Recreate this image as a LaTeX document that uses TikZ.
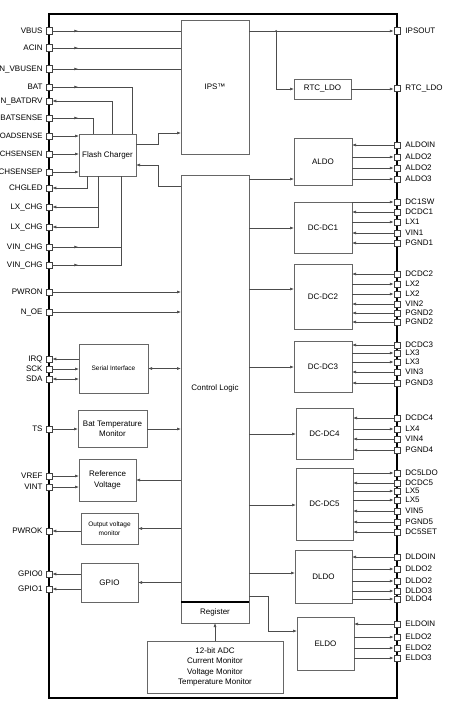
\documentclass[tikz,border=0pt]{standalone}
\usepackage{fontspec}
\setmainfont{Liberation Sans}
\usetikzlibrary{arrows.meta,decorations.markings,calc}
\begin{document}
\begin{tikzpicture}[x=1pt,y=-1pt,>={Latex[length=4pt,width=3pt]},
  conn/.style={draw=black!70,line width=0.6pt},
  blk/.style={draw=black!60,line width=0.7pt,inner sep=0pt,outer sep=0pt,align=center,font=\fontsize{8}{10.4}\selectfont},
  smallblk/.style={blk,font=\fontsize{6.5}{8.6}\selectfont},
  pinsq/.style={draw=black!75,fill=white,line width=0.5pt,minimum size=6.5pt,inner sep=0pt,outer sep=0pt},
  lpl/.style={anchor=east,inner sep=0pt,xshift=-3pt,text height=5.8pt,text depth=0pt,font=\fontsize{8}{9}\selectfont},
  rpl/.style={anchor=west,inner sep=0pt,xshift=5pt,text height=5.8pt,text depth=0pt,font=\fontsize{8}{9}\selectfont},
  midarr/.style={postaction={decorate},decoration={markings,mark=at position 26pt with {\arrow{>}}}}
]
\useasboundingbox (0,0) rectangle (468,717);
\fill[white] (0,0) rectangle (468,717);
\draw[line width=1.5pt] (49,14) rectangle (397,698);

% blocks
\node[blk,minimum width=68pt,minimum height=134pt] (ips) at (215,87) {IPS™};
\node[blk,minimum width=68pt,minimum height=427pt] (cl) at (215,388.5) {Control Logic};
\node[blk,minimum width=68pt,minimum height=21pt] (reg) at (215,612.5) {Register};
\draw[line width=1.3pt] (cl.south west) -- (cl.south east);
\node[blk,minimum width=57pt,minimum height=42pt] (fc) at (107.5,155) {Flash Charger};
\node[smallblk,minimum width=69pt,minimum height=49pt] (si) at (113.5,368.5) {Serial Interface};
\node[blk,minimum width=69pt,minimum height=37pt] (btm) at (112.5,428.5) {Bat Temperature\\Monitor};
\node[blk,minimum width=57pt,minimum height=42pt] (rv) at (107.5,480) {Reference\\Voltage};
\node[smallblk,minimum width=57pt,minimum height=31pt] (ovm) at (109.5,528.5) {Output voltage\\monitor};
\node[blk,minimum width=57pt,minimum height=39pt] (gpio) at (109.5,582.5) {GPIO};
\node[blk,minimum width=136pt,minimum height=52pt] (adc) at (215,667) {12-bit ADC\\Current Monitor\\Voltage Monitor\\Temperature Monitor};
\node[blk,minimum width=57pt,minimum height=20pt] (rtc) at (322.5,89) {RTC\_LDO};
\node[blk,minimum width=58pt,minimum height=47pt] (aldo) at (323,161.5) {ALDO};
\node[blk,minimum width=58pt,minimum height=51pt] (dc1) at (323,227.5) {DC-DC1};
\node[blk,minimum width=58pt,minimum height=65pt] (dc2) at (323,296.5) {DC-DC2};
\node[blk,minimum width=58pt,minimum height=51pt] (dc3) at (323,366.5) {DC-DC3};
\node[blk,minimum width=57pt,minimum height=51pt] (dc4) at (324.5,433.5) {DC-DC4};
\node[blk,minimum width=57pt,minimum height=72pt] (dc5) at (324.5,504) {DC-DC5};
\node[blk,minimum width=57pt,minimum height=53pt] (dldo) at (323.5,576.5) {DLDO};
\node[blk,minimum width=57pt,minimum height=53pt] (eldo) at (325.5,643.5) {ELDO};

% left pins
\foreach \y/\t/\n in {31/VBUS/lVBUS,48/ACIN/lACIN,69/N\_VBUSEN/lNVB,87/BAT/lBAT,101/N\_BATDRV/lNBD,
  118/BATSENSE/lBS,136/{\fontsize{7.7}{9}\selectfont OADSENSE}/lLS,154/{\fontsize{7.7}{9}\selectfont CHSENSEN}/lCSN,
  172/CHSENSEP/lCSP,188/CHGLED/lCHG,
  207/LX\_CHG/lLXa,227/LX\_CHG/lLXb,247/VIN\_CHG/lVINa,265/VIN\_CHG/lVINb,292/PWRON/lPWRON,
  312/N\_OE/lNOE,359/IRQ/lIRQ,369/SCK/lSCK,379/SDA/lSDA,429/TS/lTS,476/VREF/lVREF,
  487/VINT/lVINT,531/PWROK/lPWROK,574/GPIO0/lGa,589/GPIO1/lGb}{
  \node[pinsq] (\n) at (49,\y) {};
  \node[lpl] at (\n.west) {\t};
}

% named points on block edges
\coordinate (fcBAT) at (132,134);
\coordinate (fcNBD) at (112,134);
\coordinate (fcBS) at (93,134);
\coordinate (fcCHG) at (87,176);
\coordinate (fcLX) at (98,176);
\coordinate (fcVIN) at (121,176);
\coordinate (fcA) at (136,144);
\coordinate (ipsA) at (181,133);
\coordinate (clB) at (181,186);
\coordinate (fcB) at (136,165);

% left connectors
\foreach \n in {lVBUS,lACIN,lNVB}
  \draw[conn,midarr] (\n.east) -- (\n.east -| ips.west);
\draw[conn,midarr] (lBAT.east) -| (fcBAT);
\draw[conn,->] (fcNBD) |- (lNBD.east);
\draw[conn,midarr] (lBS.east) -| (fcBS);
\foreach \n in {lLS,lCSN,lCSP}
  \draw[conn,->] (\n.east) -- (\n.east -| fc.west);
\draw[conn,->] (fcCHG) |- (lCHG.east);
\draw[conn,->] (fcLX) |- (lLXb.east);
\draw[conn,->] (fcLX |- lLXa) -- (lLXa.east);
\draw[conn,midarr] (lVINb.east) -| (fcVIN);
\draw[conn,midarr] (lVINa.east) -- (lVINa.east -| fcVIN);
\draw[conn,->] (fcA) -| ($(fcA)!0.5!(ipsA)$) |- (ipsA);
\draw[conn,->] (clB) -| ($(clB)!0.5!(fcB)$) |- (fcB);
\foreach \n in {lPWRON,lNOE}
  \draw[conn,->] (\n.east) -- (\n.east -| cl.west);
\draw[conn,->] (lIRQ.east -| si.west) -- (lIRQ.east);
\draw[conn,->] (lSCK.east) -- (lSCK.east -| si.west);
\draw[conn,<->] (lSDA.east) -- (lSDA.east -| si.west);
\draw[conn,<->] (si.east) -- (si.east -| cl.west);
\draw[conn,->] (lTS.east) -- (lTS.east -| btm.west);
\draw[conn,->] (lTS -| btm.east) -- (lTS -| cl.west);
\draw[conn,->] (lVREF.east) -- (lVREF.east -| rv.west);
\draw[conn,->] (lVINT.east) -- (lVINT.east -| rv.west);
\draw[conn,->] (rv.east -| cl.west) -- (rv.east);
\draw[conn,->] (ovm.east -| cl.west) -- (ovm.east);
\draw[conn,->] (lPWROK -| ovm.west) -- (lPWROK.east);
\draw[conn,->] (gpio.east -| cl.west) -- (gpio.east);
\draw[conn,->] (lGa -| gpio.west) -- (lGa.east);
\draw[conn,->] (lGb -| gpio.west) -- (lGb.east);
\draw[conn,->] (adc.north) -- (reg.south);

% right top pins
\node[pinsq] (rIPS) at (397,31) {};
\node[rpl] at (rIPS.east) {IPSOUT};
\node[pinsq] (rRTC) at (397,88) {};
\node[rpl] at (rRTC.east) {RTC\_LDO};
\coordinate (jn) at (276,31);
\draw[conn,->] (rIPS.west -| ips.east) -- (rIPS.west);
\draw[conn,->] (jn) |- (rtc.west);
\fill[black!70] (jn) circle (1pt);
\draw[conn,->] (rtc.east) -- (rtc.east -| rRTC.west);

% control logic to right blocks
\foreach \b/\y in {aldo/179,dc1/228,dc2/289,dc3/367,dc4/434,dc5/505,dldo/573}{
  \coordinate (t\b) at (300,\y);
  \draw[conn,->] (cl.east |- t\b) -- (t\b -| \b.west);
}
\coordinate (clE) at (249,596);
\coordinate (eldoE) at (297,631);
\draw[conn,->] (clE) -| ($(clE)!0.4!(eldoE)$) |- (eldoE);

% right pins: 1 = into block, 0 = out to pin
\foreach \y/\t/\b/\d [count=\i] in {
  145/ALDOIN/aldo/1,157/ALDO2/aldo/0,168/ALDO2/aldo/0,179/ALDO3/aldo/0,
  202/DC1SW/dc1/0,212/DCDC1/dc1/1,222/LX1/dc1/0,233/VIN1/dc1/1,243/PGND1/dc1/1,
  274/DCDC2/dc2/1,284/LX2/dc2/0,294/LX2/dc2/0,304/VIN2/dc2/1,313/PGND2/dc2/1,322/PGND2/dc2/1,
  345/DCDC3/dc3/1,353/LX3/dc3/0,362/LX3/dc3/0,372/VIN3/dc3/1,383/PGND3/dc3/1,
  418/DCDC4/dc4/1,429/LX4/dc4/0,439/VIN4/dc4/1,450/PGND4/dc4/1,
  473/DC5LDO/dc5/0,483/DCDC5/dc5/1,491/LX5/dc5/0,500/LX5/dc5/0,511/VIN5/dc5/1,522/PGND5/dc5/1,532/DC5SET/dc5/1,
  557/DLDOIN/dldo/1,569/DLDO2/dldo/0,581/DLDO2/dldo/0,591/DLDO3/dldo/0,599/DLDO4/dldo/0,
  624/ELDOIN/eldo/1,637/ELDO2/eldo/0,648/ELDO2/eldo/0,658/ELDO3/eldo/0}{
  \node[pinsq] (r\i) at (397,\y) {};
  \node[rpl] at (r\i.east) {\t};
  \ifnum\d=1
    \draw[conn,->] (r\i.west) -- (r\i.west -| \b.east);
  \else
    \draw[conn,<-] (r\i.west) -- (r\i.west -| \b.east);
  \fi
}
\end{tikzpicture}
\end{document}
